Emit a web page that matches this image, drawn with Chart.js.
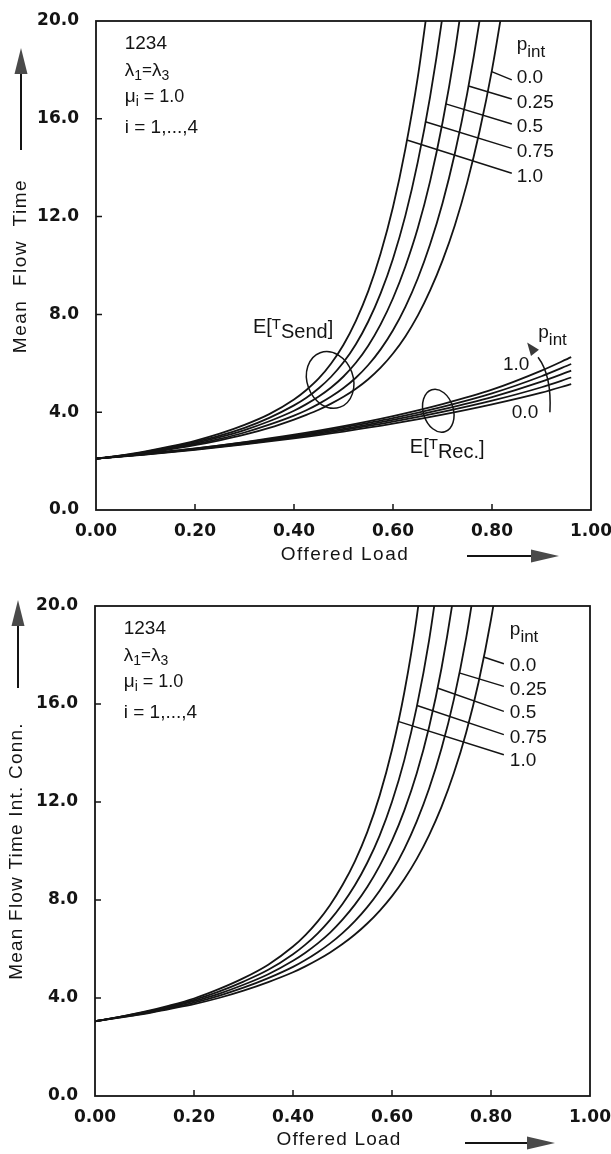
<!DOCTYPE html>
<html>
<head>
<meta charset="utf-8">
<script src="https://cdn.jsdelivr.net/npm/chart.js@4.4.1/dist/chart.umd.min.js"></script>
<style>
  html, body { margin: 0; padding: 0; background: #fff; }
  #wrap { position: relative; width: 611px; height: 1154px; }
  .box { position: absolute; left: 0; width: 611px; height: 577px; }
</style>
</head>
<body>
<div id="wrap">
  <div class="box" style="top:0"><canvas id="c1" width="611" height="577"></canvas></div>
  <div class="box" style="top:577px"><canvas id="c2" width="611" height="577"></canvas></div>
</div>
<script>
// offered load grid for the steep curves
const loads = [0, 0.05, 0.1, 0.15, 0.2, 0.25, 0.3, 0.35, 0.4, 0.425, 0.45, 0.475, 0.5, 0.525, 0.55, 0.575, 0.6, 0.625, 0.65, 0.675, 0.7, 0.725, 0.75, 0.775, 0.8, 0.825];
const pIntLabels = ['0.0', '0.25', '0.5', '0.75', '1.0'];
const xTicks = [0, 0.2, 0.4, 0.6, 0.8, 1.0];
const yTicks = [0, 4, 8, 12, 16, 20];

// E[T_Send], p_int = 0.0 .. 1.0
const sendP00 = [2.10, 2.20, 2.33, 2.48, 2.65, 2.85, 3.08, 3.36, 3.70, 3.89, 4.10, 4.35, 4.63, 4.96, 5.35, 5.82, 6.40, 7.10, 7.95, 8.98, 10.20, 11.65, 13.40, 15.50, 18.00, 21.00];
const sendP25 = [2.10, 2.21, 2.35, 2.51, 2.69, 2.91, 3.17, 3.49, 3.86, 4.08, 4.34, 4.64, 4.99, 5.41, 5.93, 6.57, 7.35, 8.31, 9.47, 10.87, 12.55, 14.59, 17.05, 20.03, 23.62, null];
const sendP50 = [2.10, 2.21, 2.36, 2.54, 2.74, 2.98, 3.27, 3.63, 4.06, 4.33, 4.64, 5.01, 5.46, 6.02, 6.72, 7.59, 8.66, 9.96, 11.52, 13.45, 15.84, 18.74, 22.30, null, null, null];
const sendP75 = [2.10, 2.22, 2.38, 2.57, 2.79, 3.04, 3.36, 3.77, 4.28, 4.59, 4.98, 5.45, 6.04, 6.78, 7.71, 8.86, 10.28, 12.04, 14.23, 16.91, 20.20, 24.24, null, null, null, null];
const sendP100 = [2.10, 2.23, 2.40, 2.60, 2.83, 3.12, 3.48, 3.92, 4.52, 4.91, 5.38, 5.99, 6.76, 7.74, 8.95, 10.49, 12.39, 14.77, 17.69, 21.37, null, null, null, null, null, null];

// E[T_Rec.]
const recLoads = [0, 0.1, 0.2, 0.3, 0.4, 0.5, 0.6, 0.7, 0.8, 0.9, 0.96];
const recP00 = [2.10, 2.27, 2.46, 2.68, 2.93, 3.21, 3.53, 3.90, 4.32, 4.80, 5.15];
const recP25 = [2.10, 2.28, 2.48, 2.71, 2.97, 3.27, 3.61, 4.01, 4.47, 5.02, 5.42];
const recP50 = [2.10, 2.29, 2.49, 2.73, 3.01, 3.32, 3.69, 4.12, 4.62, 5.25, 5.70];
const recP75 = [2.10, 2.29, 2.51, 2.76, 3.04, 3.38, 3.76, 4.22, 4.77, 5.47, 5.97];
const recP100 = [2.10, 2.30, 2.52, 2.78, 3.08, 3.43, 3.84, 4.33, 4.92, 5.70, 6.25];

// mean flow time of internal connections
const connP00 = [3.05, 3.20, 3.35, 3.55, 3.75, 4.00, 4.30, 4.65, 5.05, 5.29, 5.56, 5.86, 6.20, 6.59, 7.04, 7.56, 8.16, 8.86, 9.68, 10.65, 11.80, 13.18, 14.85, 16.90, 19.45, 22.60];
const connP25 = [3.05, 3.21, 3.37, 3.58, 3.81, 4.09, 4.42, 4.81, 5.27, 5.55, 5.87, 6.23, 6.65, 7.14, 7.71, 8.38, 9.16, 10.09, 11.21, 12.55, 14.18, 16.19, 18.72, 21.87, null, null];
const connP50 = [3.05, 3.22, 3.40, 3.62, 3.87, 4.17, 4.54, 4.97, 5.52, 5.85, 6.23, 6.67, 7.20, 7.81, 8.53, 9.39, 10.42, 11.66, 13.17, 15.06, 17.46, 20.51, 24.36, null, null, null];
const connP75 = [3.05, 3.23, 3.42, 3.65, 3.92, 4.26, 4.67, 5.15, 5.79, 6.18, 6.64, 7.19, 7.84, 8.60, 9.52, 10.63, 12.01, 13.72, 15.88, 18.61, 22.11, null, null, null, null, null];
const connP100 = [3.05, 3.23, 3.44, 3.69, 3.98, 4.36, 4.81, 5.36, 6.10, 6.57, 7.13, 7.80, 8.61, 9.58, 10.77, 12.26, 14.13, 16.49, 19.55, 23.63, null, null, null, null, null, null];

const sendSeries = [sendP00, sendP25, sendP50, sendP75, sendP100];
const recSeries = [recP00, recP25, recP50, recP75, recP100];
const connSeries = [connP00, connP25, connP50, connP75, connP100];

const INK = '#141414';
const FONT = '"Liberation Sans", Arial, sans-serif';

function curve(xs, ys) {
  return {
    data: xs.map((x, i) => ({ x: x, y: ys[i] })),
    borderColor: INK, borderWidth: 1.8, pointRadius: 0,
    cubicInterpolationMode: 'monotone', fill: false
  };
}

// x where a series first reaches value v (for the leader lines)
function xAt(xs, ys, v) {
  for (let i = 1; i < ys.length; i++) {
    if (ys[i] == null) break;
    if (ys[i] >= v) {
      const t = (v - ys[i - 1]) / (ys[i] - ys[i - 1]);
      return xs[i - 1] + t * (xs[i] - xs[i - 1]);
    }
  }
  return xs[0];
}

function rich(ctx, x, y, parts) {
  parts.forEach(p => {
    ctx.font = p[1] + 'px ' + FONT;
    ctx.fillText(p[0], x, y + (p[2] || 0));
    x += ctx.measureText(p[0]).width;
  });
}

function arrowHead(ctx, tx, ty, dx, dy, len, half) {
  const L = Math.hypot(dx, dy);
  dx /= L; dy /= L;
  const bx = tx - dx * len, by = ty - dy * len;
  ctx.beginPath();
  ctx.moveTo(tx, ty);
  ctx.lineTo(bx - dy * half, by + dx * half);
  ctx.lineTo(bx + dy * half, by - dx * half);
  ctx.closePath();
  ctx.fill();
}

function ring(ctx, cx, cy, rx, ry, rot) {
  ctx.beginPath();
  ctx.ellipse(cx, cy, rx, ry, rot, 0, Math.PI * 2);
  ctx.stroke();
}

function drawInfo(ctx, X, Y) {
  const x = X(0.058);
  rich(ctx, x, Y(18.85), [['1234', 19]]);
  rich(ctx, x, Y(17.75), [['λ', 19], ['1', 14, 4], ['=', 17, -1], ['λ', 19], ['3', 14, 4]]);
  rich(ctx, x, Y(16.69), [['μ', 19], ['i', 14, 4], [' = 1.0', 18]]);
  rich(ctx, x, Y(15.42), [['i = 1,...,4', 19]]);
}

function drawPint(ctx, X, Y, series, b) {
  rich(ctx, X(b.lx), Y(b.pBase), [['p', 19], ['int', 17, 7]]);
  ctx.lineWidth = 1.5;
  ctx.beginPath();
  series.forEach((ys, k) => {
    const v = b.lead[k];
    ctx.moveTo(X(xAt(loads, ys, v)), Y(v));
    ctx.lineTo(X(b.endX), Y(b.end[k]));
  });
  ctx.stroke();
  ctx.font = '19px ' + FONT;
  pIntLabels.forEach((t, k) => ctx.fillText(t, X(b.lx), Y(b.lab[k])));
}

function drawAxisTitles(ctx, L) {
  ctx.fillStyle = INK;
  ctx.strokeStyle = INK;
  ctx.font = '19px ' + FONT;
  ctx.letterSpacing = L.spacing;
  ctx.textAlign = 'center';
  ctx.textBaseline = 'middle';
  ctx.fillText('Offered Load', L.xtX, L.xtY);
  ctx.save();
  ctx.translate(L.ytX, L.ytY);
  ctx.rotate(-Math.PI / 2);
  ctx.fillText(L.yTitle, 0, 0);
  ctx.restore();
  ctx.letterSpacing = '0px';
  ctx.textAlign = 'left';
  ctx.textBaseline = 'alphabetic';

  ctx.fillStyle = '#4a4a4a';
  ctx.lineWidth = 2;
  // x arrow
  ctx.beginPath();
  ctx.moveTo(L.xaFrom, L.xaY);
  ctx.lineTo(L.xaTo - 20, L.xaY);
  ctx.stroke();
  arrowHead(ctx, L.xaTo, L.xaY, 1, 0, 28, 6.5);
  // y arrow
  ctx.beginPath();
  ctx.moveTo(L.yaX, L.yaFrom);
  ctx.lineTo(L.yaX, L.yaTo + 20);
  ctx.stroke();
  arrowHead(ctx, L.yaX, L.yaTo, 0, -1, 26, 6.5);
  ctx.fillStyle = INK;
}

const decor = {
  id: 'decor',
  afterDraw(chart, args, opts) {
    const ctx = chart.ctx, a = chart.chartArea;
    const sx = chart.scales.x, sy = chart.scales.y;
    const X = v => sx.getPixelForValue(v), Y = v => sy.getPixelForValue(v);
    ctx.save();
    ctx.strokeStyle = INK;
    ctx.fillStyle = INK;
    ctx.lineWidth = 1.8;
    ctx.strokeRect(a.left, a.top, a.right - a.left, a.bottom - a.top);
    ctx.lineWidth = 1.5;
    ctx.beginPath();
    xTicks.slice(1, -1).forEach(v => { ctx.moveTo(X(v), a.bottom); ctx.lineTo(X(v), a.bottom - 6); });
    yTicks.slice(1, -1).forEach(v => { ctx.moveTo(a.left, Y(v)); ctx.lineTo(a.left + 6, Y(v)); });
    ctx.stroke();

    drawInfo(ctx, X, Y);
    opts.notes(ctx, X, Y);
    drawAxisTitles(ctx, opts.lay);
    ctx.restore();
  }
};

function notesTop(ctx, X, Y) {
  drawPint(ctx, X, Y, sendSeries, {
    lx: 0.850, pBase: 18.81, endX: 0.840,
    lab: [17.45, 16.43, 15.47, 14.45, 13.43],
    lead: [17.93, 17.34, 16.61, 15.88, 15.13],
    end: [17.59, 16.81, 15.79, 14.79, 13.77]
  });
  ctx.lineWidth = 1.5;
  rich(ctx, X(0.317), Y(7.24), [['E[', 20], ['T', 15, -4], ['Send', 20, 5], [']', 20, 2]]);
  ring(ctx, X(0.473), Y(5.32), 23, 29, -0.35);
  rich(ctx, X(0.634), Y(2.33), [['E[', 20], ['T', 15, -4], ['Rec.', 20, 5], [']', 20, 2]]);
  ring(ctx, X(0.6915), Y(4.06), 15, 22, -0.3);
  // p_int arrow over the Rec. curves
  rich(ctx, X(0.8935), Y(7.02), [['p', 19], ['int', 17, 7]]);
  ctx.font = '19px ' + FONT;
  ctx.fillText('1.0', X(0.822), Y(5.73));
  ctx.fillText('0.0', X(0.840), Y(3.78));
  const s = [X(0.917), Y(4.0)], c = [X(0.921), Y(5.5)], e = [X(0.893), Y(6.25)];
  ctx.beginPath();
  ctx.moveTo(s[0], s[1]);
  ctx.quadraticCurveTo(c[0], c[1], e[0], e[1]);
  ctx.stroke();
  ctx.fillStyle = '#3a3a3a';
  arrowHead(ctx, X(0.871), Y(6.85), e[0] - c[0], e[1] - c[1], 13, 5);
  ctx.fillStyle = INK;
}

function notesBottom(ctx, X, Y) {
  drawPint(ctx, X, Y, connSeries, {
    lx: 0.838, pBase: 18.83, endX: 0.826,
    lab: [17.33, 16.38, 15.43, 14.41, 13.45],
    lead: [17.92, 17.27, 16.65, 15.94, 15.29],
    end: [17.64, 16.72, 15.70, 14.75, 13.93]
  });
}

const tickFont = { family: '"DejaVu Sans", sans-serif', size: 17, weight: 'bold' };

function makeChart(id, sets, lay, notes) {
  return new Chart(document.getElementById(id), {
    type: 'line',
    data: { datasets: sets },
    options: {
      responsive: false,
      animation: false,
      devicePixelRatio: 1,
      layout: { padding: { top: lay.top, right: lay.right, left: 0, bottom: 0 } },
      plugins: {
        legend: { display: false },
        tooltip: { enabled: false },
        decor: { lay: lay, notes: notes }
      },
      scales: {
        x: {
          type: 'linear', min: 0, max: 1,
          afterBuildTicks: s => { s.ticks = xTicks.map(v => ({ value: v })); },
          ticks: { callback: v => v.toFixed(2), font: tickFont, color: INK, padding: 3, maxRotation: 0, autoSkip: false },
          grid: { display: false },
          border: { display: false },
          afterFit: s => { s.height = lay.xh; s.paddingLeft = 0; s.paddingRight = 0; }
        },
        y: {
          type: 'linear', min: 0, max: 20,
          afterBuildTicks: s => { s.ticks = yTicks.map(v => ({ value: v })); },
          ticks: { callback: v => v.toFixed(1), font: tickFont, color: INK, padding: 9 },
          grid: { display: false },
          border: { display: false },
          afterFit: s => { s.width = lay.yw; s.paddingTop = 0; s.paddingBottom = 0; }
        }
      }
    },
    plugins: [decor]
  });
}

makeChart('c1',
  sendSeries.map(ys => curve(loads, ys)).concat(recSeries.map(ys => curve(recLoads, ys))),
  { top: 21, right: 20, xh: 67, yw: 96, spacing: '1.5px',
    yTitle: 'Mean  Flow  Time', ytX: 21, ytY: 266, yaX: 21, yaFrom: 150, yaTo: 48,
    xtX: 345, xtY: 555, xaFrom: 467, xaTo: 559, xaY: 556 },
  notesTop);

makeChart('c2',
  connSeries.map(ys => curve(loads, ys)),
  { top: 29, right: 21, xh: 58, yw: 95, spacing: '1.2px',
    yTitle: 'Mean Flow Time Int. Conn.', ytX: 17, ytY: 274, yaX: 18, yaFrom: 111, yaTo: 23,
    xtX: 339, xtY: 563, xaFrom: 465, xaTo: 555, xaY: 566 },
  notesBottom);
</script>
</body>
</html>
